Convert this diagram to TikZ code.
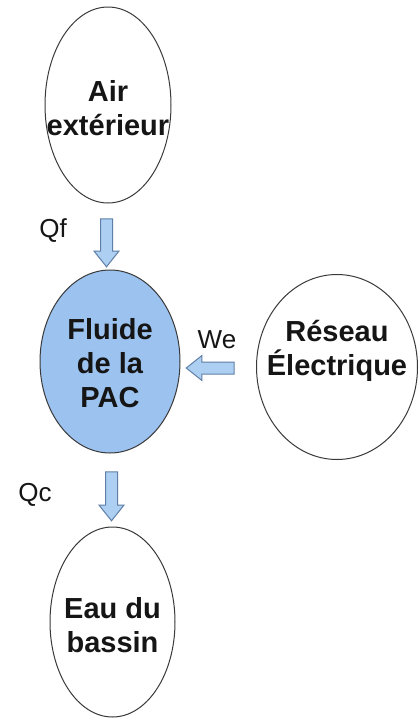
\documentclass[tikz,border=0pt]{standalone}
\usepackage{fontspec}
\setmainfont{Liberation Sans}
\usetikzlibrary{shapes.geometric,shapes.arrows}
\definecolor{ink}{HTML}{151515}
\definecolor{fluid}{HTML}{9CC2EF}
\definecolor{arrfill}{HTML}{ADD0F2}
\definecolor{arrline}{HTML}{5F7FA6}
\definecolor{edge}{HTML}{3A3A3A}
\tikzset{
  ell/.style={ellipse, draw=edge, line width=1pt, inner sep=0pt},
  txt/.style={align=center, text=ink, font=\fontsize{29}{34}\selectfont\bfseries, inner sep=0pt},
  lbl/.style={text=ink, font=\fontsize{26}{30}\selectfont, inner sep=0pt},
  blockarr/.style={single arrow, draw=arrline, fill=arrfill, line width=1pt,
    inner xsep=0pt, inner ysep=5.5pt, single arrow head extend=6.5pt,
    single arrow tip angle=77, minimum width=24pt}
}
\begin{document}
\begin{tikzpicture}[x=1pt,y=1pt]
\useasboundingbox[fill=white] (0,0) rectangle (418,-718);
% ellipses
\node[ell, minimum width=126pt, minimum height=196pt] (air) at (108,-105) {};
\node[txt] (airt) at (108,-108) {Air\\ext\'erieur};
\node[ell, fill=fluid, minimum width=140pt, minimum height=183pt] (pac) at (110,-361.5) {};
\node[txt] (pact) at (110,-363) {Fluide\\de la\\PAC};
\node[ell, minimum width=161pt, minimum height=185pt] (res) at (337,-367) {};
\node[txt] (rest) at (337,-351) {R\'eseau\\\'Electrique};
\node[ell, minimum width=125pt, minimum height=190pt] (eau) at (112.5,-622) {};
\node[txt] (eaut) at (112.5,-625) {Eau du\\bassin};
% block arrows
\node[blockarr, minimum height=48pt, rotate=-90] (a1) at (106.5,-239) {};
\node[blockarr, minimum height=48pt, rotate=180] (a2) at (214,-368) {};
\node[blockarr, minimum height=49pt, rotate=-90] (a3) at (111.5,-492.5) {};
% labels
\node[lbl] (qf) at (53,-231) {Qf};
\node[lbl] (we) at (217,-340) {We};
\node[lbl] (qc) at (35,-495) {Qc};
\end{tikzpicture}
\end{document}
